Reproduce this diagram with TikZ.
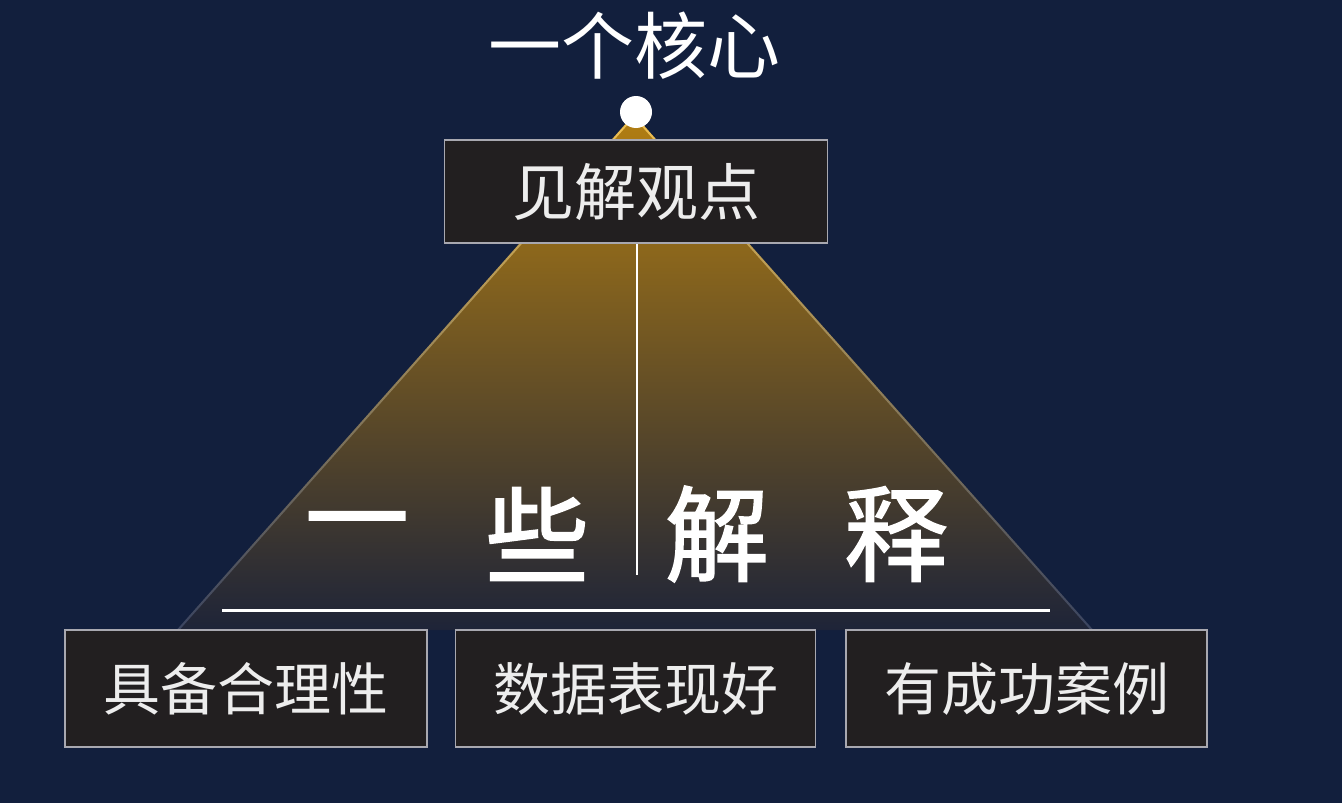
\documentclass[tikz,border=0pt]{standalone}
\usepackage{fontspec}
\newfontfamily\cjk{Noto Sans CJK SC}
\newfontfamily\cjkheavy[FakeBold=1.6]{Noto Sans CJK SC}
\definecolor{bg}{HTML}{121F3D}
\definecolor{boxfill}{HTML}{221F20}
\definecolor{boxline}{HTML}{A8A8B0}
\definecolor{textcol}{HTML}{EDEDED}
\definecolor{goldtop}{HTML}{B27E12}
\definecolor{goldmid}{HTML}{62501F}
\definecolor{darkbase}{HTML}{1E2438}
\definecolor{edgetop}{HTML}{F0C050}
\definecolor{edgebot}{HTML}{3A4460}
\begin{document}
\begin{tikzpicture}[x=1pt,y=-1pt,
  box/.style={draw=boxline, line width=1.6pt, fill=boxfill, inner sep=0pt,
    text=textcol, font=\cjk\fontsize{57}{60}\selectfont},
  bigchar/.style={text=white, inner sep=0pt, font=\cjkheavy\fontsize{104}{108}\selectfont},
  rule/.style={draw=white, line cap=butt}
]
% background and page frame
\fill[bg] (0,0) rectangle (1342,803);
\useasboundingbox (0,0) rectangle (1342,803);

% pyramid corners
\coordinate (apex) at (634,116);
\coordinate (bl) at (178,630);
\coordinate (br) at (1092,630);

% pyramid body
\shade[top color=goldtop, middle color=goldmid, bottom color=darkbase]
  (apex) -- (bl) -- (br) -- cycle;

% glowing pyramid edges
\shade[top color=edgetop, bottom color=edgebot]
  ([xshift=-1.4pt]apex) -- ([xshift=-1.4pt]bl) -- ([xshift=1.4pt]bl) -- ([xshift=1.4pt]apex) -- cycle;
\shade[top color=edgetop, bottom color=edgebot]
  ([xshift=-1.4pt]apex) -- ([xshift=-1.4pt]br) -- ([xshift=1.4pt]br) -- ([xshift=1.4pt]apex) -- cycle;

% title and apex dot
\node[text=white, inner sep=0pt, font=\cjk\fontsize{73}{76}\selectfont] (title) at (634,46) {一个核心};
\node[circle, fill=white, minimum size=32pt, inner sep=0pt] (dot) at (636,112) {};

% central statement
\node[box, minimum width=383pt, minimum height=103pt, font=\cjk\fontsize{62}{66}\selectfont]
  (view) at (636,191.5) {见解观点};

% divider under the statement
\coordinate (vend) at (637,575);
\draw[rule, line width=2.2pt] (view.south -| vend) -- (vend);

% large explanation characters
\node[bigchar] (c1) at (357,534) {一};
\node[bigchar] (c2) at (537,534) {些};
\node[bigchar] (c3) at (717,534) {解};
\node[bigchar] (c4) at (896,534) {释};

% base line
\coordinate (hl) at (222,610);
\coordinate (hr) at (1050,610);
\draw[rule, line width=3pt] (hl) -- (hr);

% supporting points
\node[box, minimum width=362pt, minimum height=117pt] (b1) at (246,688.5) {具备合理性};
\node[box, minimum width=360pt, minimum height=117pt] (b2) at (635.5,688.5) {数据表现好};
\node[box, minimum width=361pt, minimum height=117pt] (b3) at (1026.5,688.5) {有成功案例};
\end{tikzpicture}
\end{document}
